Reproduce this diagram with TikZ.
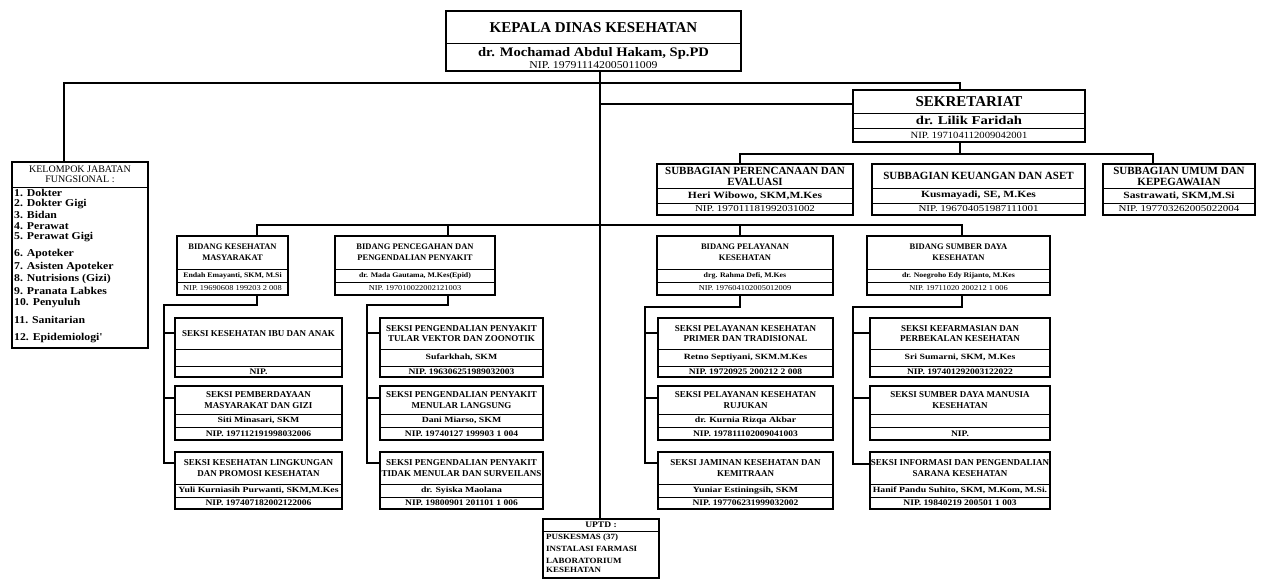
\documentclass[tikz,border=0pt]{standalone}
\usepackage{fontspec}
\setmainfont{Liberation Serif}
\newfontfamily\wideA{Liberation Serif}[FakeStretch=1.12]
\newfontfamily\wideB{Liberation Serif}[FakeStretch=1.22]
\usetikzlibrary{fit}
\newcommand{\unitbox}[7]{%
  \node[box, fit={(#2,#4) (#3,#7)}] (#1) {};
  \draw[sepl] (#2,#5) -- (#3,#5);
  \draw[sepl] (#2,#6) -- (#3,#6);
  \gdef\ux{#2}\gdef\uxx{#3}\gdef\ut{#4}\gdef\ua{#5}\gdef\ub{#6}\gdef\uc{#7}\gdef\un{#1}}
\newcommand{\unittext}[4]{%
  \node[#1T] (\un-t) at ({(\ux+\uxx)/2},{(\ut+\ua)/2}) {#2};
  \node[#1N] (\un-n) at ({(\ux+\uxx)/2},{(\ua+\ub)/2}) {#3};
  \node[#1P] (\un-p) at ({(\ux+\uxx)/2},{(\ub+\uc)/2}) {#4};}
\begin{document}
\begin{tikzpicture}[x=1pt,y=-1pt,
  box/.style={draw, line width=1.6pt, inner sep=0pt},
  sepl/.style={line width=0.9pt},
  conn/.style={line width=1.2pt},
  txt/.style={inner sep=0pt, align=center},
  hT/.style={txt, font=\bfseries\fontsize{15}{17}\selectfont},
  hN/.style={txt, font=\wideA\bfseries\fontsize{13}{15}\selectfont},
  hP/.style={txt, font=\wideA\fontsize{10.5}{12}\selectfont},
  sT/.style={txt, font=\bfseries\fontsize{15}{17}\selectfont},
  sN/.style={txt, font=\wideB\bfseries\fontsize{12}{14}\selectfont},
  sP/.style={txt, font=\wideA\fontsize{9.5}{11}\selectfont},
  uT/.style={txt, font=\bfseries\fontsize{11}{11}\selectfont},
  uN/.style={txt, font=\wideB\bfseries\fontsize{9.5}{11}\selectfont},
  uP/.style={txt, font=\wideB\fontsize{9}{10}\selectfont},
  bT/.style={txt, font=\bfseries\fontsize{8.5}{11}\selectfont},
  bN/.style={txt, font=\wideA\bfseries\fontsize{7}{8}\selectfont},
  bP/.style={txt, font=\wideA\fontsize{7.5}{8}\selectfont},
  kT/.style={txt, font=\bfseries\fontsize{9}{10.5}\selectfont},
  kN/.style={txt, font=\wideB\bfseries\fontsize{8}{9}\selectfont},
  kP/.style={txt, font=\wideA\bfseries\fontsize{8.5}{9}\selectfont},
  fT/.style={txt, font=\fontsize{10}{10.5}\selectfont},
  fI/.style={inner sep=0pt, anchor=west, font=\wideA\bfseries\fontsize{10.5}{12}\selectfont},
  pT/.style={txt, font=\wideA\bfseries\fontsize{8.5}{9}\selectfont},
  pI/.style={inner sep=0pt, anchor=west, font=\wideA\bfseries\fontsize{8}{10}\selectfont}
]
\useasboundingbox (0,0) rectangle (1270,580);
\fill[white] (0,0) rectangle (1270,580);

% ---------- head ----------
\node[box, fit={(446,11) (741,71)}] (head) {};
\draw[sepl] (446,43) -- (741,43);
\node[hT] (head-t) at (593.5,27.5) {KEPALA DINAS KESEHATAN};
\node[hN] (head-n) at (593.5,53.5) {dr. Mochamad Abdul Hakam, Sp.PD};
\node[hP] (head-p) at (593.5,65) {NIP. 197911142005011009};

% ---------- sekretariat ----------
\unitbox{sek}{853}{1085}{90}{113}{128}{142}
\unittext{s}{SEKRETARIAT}{dr. Lilik Faridah}{NIP. 197104112009042001}

% ---------- subbagian ----------
\unitbox{per}{657}{853}{164}{188}{203}{215}
\unittext{u}{SUBBAGIAN PERENCANAAN DAN\\EVALUASI}{Heri Wibowo, SKM,M.Kes}{NIP. 197011181992031002}
\unitbox{keu}{872}{1085}{164}{188}{203}{215}
\unittext{u}{SUBBAGIAN KEUANGAN DAN ASET}{Kusmayadi, SE, M.Kes}{NIP. 196704051987111001}
\unitbox{umu}{1103}{1255}{164}{188}{203}{215}
\unittext{u}{SUBBAGIAN UMUM DAN\\KEPEGAWAIAN}{Sastrawati, SKM,M.Si}{NIP. 197703262005022004}

% ---------- kelompok jabatan fungsional ----------
\node[box, fit={(12,162) (148,348)}] (klp) {};
\draw[sepl] (12,187) -- (148,187);
\node[fT] (klp-t) at (80,174.5) {KELOMPOK JABATAN\\FUNGSIONAL :};
\node[fI] (f1) at (14,193) {1. Dokter};
\node[fI] (f2) at (14,204) {2. Dokter Gigi};
\node[fI] (f3) at (14,215) {3. Bidan};
\node[fI] (f4) at (14,226) {4. Perawat};
\node[fI] (f5) at (14,237) {5. Perawat Gigi};
\node[fI] (f6) at (14,254) {6. Apoteker};
\node[fI] (f7) at (14,267) {7. Asisten Apoteker};
\node[fI] (f8) at (14,279) {8. Nutrisions (Gizi)};
\node[fI] (f9) at (14,291) {9. Pranata Labkes};
\node[fI] (f10) at (14,303) {10. Penyuluh};
\node[fI] (f11) at (14,320) {11. Sanitarian};
\node[fI] (f12) at (14,338) {12. Epidemiologi'};

% ---------- bidang ----------
\unitbox{kes}{177}{288}{236}{269}{282}{295}
\unittext{b}{BIDANG KESEHATAN\\MASYARAKAT}{Endah Emayanti, SKM, M.Si}{NIP. 19690608 199203 2 008}
\unitbox{p2p}{335}{495}{236}{269}{282}{295}
\unittext{b}{BIDANG PENCEGAHAN DAN\\PENGENDALIAN PENYAKIT}{dr. Mada Gautama, M.Kes(Epid)}{NIP. 197010022002121003}
\unitbox{pel}{657}{833}{236}{269}{282}{295}
\unittext{b}{BIDANG PELAYANAN\\KESEHATAN}{drg. Rahma Defi, M.Kes}{NIP. 197604102005012009}
\unitbox{sdk}{867}{1050}{236}{269}{282}{295}
\unittext{b}{BIDANG SUMBER DAYA\\KESEHATAN}{dr. Noegroho Edy Rijanto, M.Kes}{NIP. 19711020 200212 1 006}

% ---------- seksi column 1 ----------
\unitbox{s11}{175}{342}{318}{349}{366}{377}
\unittext{k}{SEKSI KESEHATAN IBU DAN ANAK}{}{NIP.}
\unitbox{s12}{175}{342}{386}{414}{427}{440}
\unittext{k}{SEKSI PEMBERDAYAAN\\MASYARAKAT DAN GIZI}{Siti Minasari, SKM}{NIP. 197112191998032006}
\unitbox{s13}{175}{342}{452}{484}{497}{509}
\unittext{k}{SEKSI KESEHATAN LINGKUNGAN\\DAN PROMOSI KESEHATAN}{Yuli Kurniasih Purwanti, SKM,M.Kes}{NIP. 197407182002122006}
% ---------- seksi column 2 ----------
\unitbox{s21}{380}{543}{318}{349}{366}{377}
\unittext{k}{SEKSI PENGENDALIAN PENYAKIT\\TULAR VEKTOR DAN ZOONOTIK}{Sufarkhah, SKM}{NIP. 196306251989032003}
\unitbox{s22}{380}{543}{386}{414}{427}{440}
\unittext{k}{SEKSI PENGENDALIAN PENYAKIT\\MENULAR LANGSUNG}{Dani Miarso, SKM}{NIP. 19740127 199903 1 004}
\unitbox{s23}{380}{543}{452}{484}{497}{509}
\unittext{k}{SEKSI PENGENDALIAN PENYAKIT\\TIDAK MENULAR DAN SURVEILANS}{dr. Syiska Maolana}{NIP. 19800901 201101 1 006}
% ---------- seksi column 3 ----------
\unitbox{s31}{658}{833}{318}{349}{366}{377}
\unittext{k}{SEKSI PELAYANAN KESEHATAN\\PRIMER DAN TRADISIONAL}{Retno Septiyani, SKM.M.Kes}{NIP. 19720925 200212 2 008}
\unitbox{s32}{658}{833}{386}{414}{427}{440}
\unittext{k}{SEKSI PELAYANAN KESEHATAN\\RUJUKAN}{dr. Kurnia Rizqa Akbar}{NIP. 197811102009041003}
\unitbox{s33}{658}{833}{452}{484}{497}{509}
\unittext{k}{SEKSI JAMINAN KESEHATAN DAN\\KEMITRAAN}{Yuniar Estiningsih, SKM}{NIP. 197706231999032002}
% ---------- seksi column 4 ----------
\unitbox{s41}{870}{1050}{318}{349}{366}{377}
\unittext{k}{SEKSI KEFARMASIAN DAN\\PERBEKALAN KESEHATAN}{Sri Sumarni, SKM, M.Kes}{NIP. 197401292003122022}
\unitbox{s42}{870}{1050}{386}{414}{427}{440}
\unittext{k}{SEKSI SUMBER DAYA MANUSIA\\KESEHATAN}{}{NIP.}
\unitbox{s43}{870}{1050}{452}{484}{497}{509}
\unittext{k}{SEKSI INFORMASI DAN PENGENDALIAN\\SARANA KESEHATAN}{Hanif Pandu Suhito, SKM, M.Kom, M.Si.}{NIP. 19840219 200501 1 003}

% ---------- UPTD ----------
\node[box, fit={(543,519) (659,578)}] (uptd) {};
\draw[sepl] (543,531) -- (659,531);
\node[pT] (uptd-t) at (601,525) {UPTD :};
\node[pI] (u1) at (546,538) {PUSKESMAS (37)};
\node[pI] (u2) at (546,549) {INSTALASI FARMASI};
\node[pI] (u3) at (546,560.5) {LABORATORIUM};
\node[pI] (u4) at (546,570) {KESEHATAN};

% ---------- junction coordinates ----------
\coordinate (tx) at (600,0);
\coordinate (kx) at (64,83);
\coordinate (sx) at (960,83);
\coordinate (sj) at (600,104);
\coordinate (sb) at (960,154);
\coordinate (sbL) at (740,154);
\coordinate (sbR) at (1153,154);
\coordinate (bL) at (257,225);
\coordinate (b2) at (448,225);
\coordinate (b3) at (740,225);
\coordinate (bR) at (962,225);
\coordinate (c1a) at (257,305);
\coordinate (c1b) at (164,305);
\coordinate (c1r1) at (164,333);
\coordinate (c1r2) at (164,398);
\coordinate (c1r3) at (164,463);
\coordinate (c2a) at (448,305);
\coordinate (c2b) at (367,305);
\coordinate (c2r1) at (367,333);
\coordinate (c2r2) at (367,398);
\coordinate (c2r3) at (367,463);
\coordinate (c3a) at (740,307);
\coordinate (c3b) at (645,307);
\coordinate (c3r1) at (645,333);
\coordinate (c3r2) at (645,398);
\coordinate (c3r3) at (645,463);
\coordinate (c4a) at (962,307);
\coordinate (c4b) at (853,307);
\coordinate (c4r1) at (853,333);
\coordinate (c4r2) at (853,398);
\coordinate (c4r3) at (853,464);

% ---------- connectors ----------
\draw[conn] (head.south -| tx) -- (uptd.north -| tx);
\draw[conn] (klp.north -| kx) -- (kx) -- (sx) -- (sek.north -| sx);
\draw[conn] (sj) -- (sj -| sek.west);
\draw[conn] (sek.south -| sb) -- (sb);
\draw[conn] (sbL |- per.north) -- (sbL) -- (sbR) -- (sbR |- umu.north);
\draw[conn] (bL |- kes.north) -- (bL) -- (bR) -- (bR |- sdk.north);
\draw[conn] (b2) -- (b2 |- p2p.north);
\draw[conn] (b3) -- (b3 |- pel.north);
% column 1
\draw[conn] (kes.south -| c1a) -- (c1a) -- (c1b) -- (c1r3) -- (c1r3 -| s13.west);
\draw[conn] (c1r1) -- (c1r1 -| s11.west);
\draw[conn] (c1r2) -- (c1r2 -| s12.west);
% column 2
\draw[conn] (p2p.south -| c2a) -- (c2a) -- (c2b) -- (c2r3) -- (c2r3 -| s23.west);
\draw[conn] (c2r1) -- (c2r1 -| s21.west);
\draw[conn] (c2r2) -- (c2r2 -| s22.west);
% column 3
\draw[conn] (pel.south -| c3a) -- (c3a) -- (c3b) -- (c3r3) -- (c3r3 -| s33.west);
\draw[conn] (c3r1) -- (c3r1 -| s31.west);
\draw[conn] (c3r2) -- (c3r2 -| s32.west);
% column 4
\draw[conn] (sdk.south -| c4a) -- (c4a) -- (c4b) -- (c4r3) -- (c4r3 -| s43.west);
\draw[conn] (c4r1) -- (c4r1 -| s41.west);
\draw[conn] (c4r2) -- (c4r2 -| s42.west);
\end{tikzpicture}
\end{document}
